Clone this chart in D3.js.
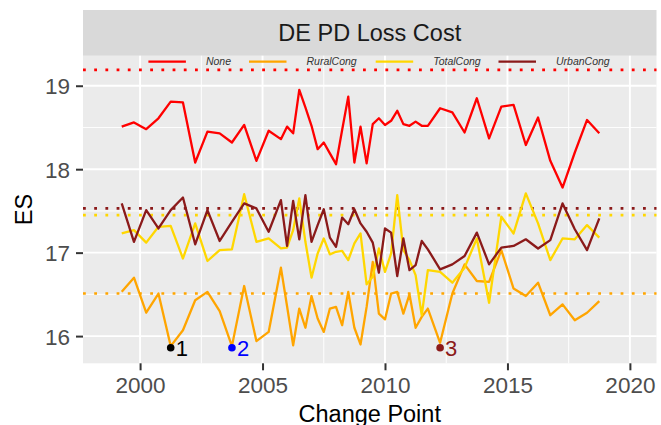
<!DOCTYPE html>
<html>
<head>
<meta charset="utf-8">
<script src="https://cdn.jsdelivr.net/npm/d3@7"></script>
<style>
  body { margin: 0; background: #ffffff; font-family: "Liberation Sans", Arial, sans-serif; }
</style>
</head>
<body>
<div id="chart-container"></div>
<script>
// data
const years = [1999.25, 1999.75, 2000.25, 2000.75, 2001.25, 2001.75, 2002.25, 2002.75, 2003.25, 2003.75,
  2004.25, 2004.75, 2005.25, 2005.75, 2006, 2006.25, 2006.5, 2006.75, 2007, 2007.25, 2007.5, 2007.75,
  2008, 2008.25, 2008.5, 2008.75, 2009, 2009.25, 2009.5, 2009.75, 2010, 2010.25, 2010.5, 2010.75,
  2011, 2011.25, 2011.5, 2011.75, 2012.25, 2012.75, 2013.25, 2013.75, 2014.25, 2014.75, 2015.25,
  2015.75, 2016.25, 2016.75, 2017.25, 2017.75, 2018.25, 2018.75];

const none = [18.51, 18.56, 18.48, 18.61, 18.81, 18.80, 18.08, 18.45, 18.43, 18.32, 18.53, 18.10, 18.46, 18.36,
  18.51, 18.43, 18.95, 18.74, 18.52, 18.24, 18.32, 18.19, 18.06, 18.47, 18.87, 18.08, 18.51, 18.07,
  18.54, 18.61, 18.53, 18.58, 18.70, 18.54, 18.52, 18.57, 18.52, 18.52,
  18.73, 18.68, 18.44, 18.85, 18.37, 18.75, 18.77, 18.29, 18.62, 18.10, 17.78, 18.20, 18.59, 18.43];

const ruralCong = [16.53, 16.70, 16.28, 16.51, 15.88, 16.07, 16.43, 16.53, 16.30, 15.88, 16.60, 15.94, 16.05, 16.82,
  16.36, 15.89, 16.33, 16.10, 16.48, 16.21, 16.05, 16.33, 16.35, 16.13, 16.53, 16.10, 15.90, 16.35,
  16.89, 16.27, 16.20, 16.51, 16.53, 16.27, 16.50, 16.10, 16.23, 16.33,
  15.92, 16.51, 16.86, 16.66, 16.65, 17.03, 16.57, 16.48, 16.64, 16.25, 16.38, 16.19, 16.28, 16.42];

const totalCong = [17.23, 17.27, 17.12, 17.31, 17.32, 16.93, 17.35, 16.90, 17.03, 17.04, 17.70, 17.13, 17.17, 17.05,
  17.06, 17.27, 17.65, 17.13, 16.70, 16.99, 17.17, 16.98, 17.01, 17.02, 16.91, 17.11, 17.23, 16.62,
  16.71, 17.05, 16.77, 16.99, 17.69, 17.03, 16.91, 16.73, 16.25, 16.79,
  16.77, 16.64, 16.82, 17.17, 16.40, 17.43, 17.23, 17.71, 17.35, 16.91, 17.17, 17.16, 17.33, 17.18];

const urbanCong = [17.59, 17.13, 17.51, 17.29, 17.51, 17.66, 17.10, 17.51, 17.14, 17.37, 17.59, 17.53, 17.25, 17.63,
  17.08, 17.62, 17.16, 17.69, 17.13, 17.33, 17.52, 17.18, 17.07, 17.42, 17.34, 17.52, 17.35, 17.25,
  17.12, 16.76, 17.29, 17.24, 16.72, 17.17, 16.79, 16.85, 17.14, 17.04,
  16.80, 16.86, 16.96, 17.24, 16.86, 17.06, 17.08, 17.16, 17.05, 17.15, 17.59, 17.28, 17.03, 17.41];

const seriesNames = ["None", "RuralCong", "TotalCong", "UrbanCong"];
const seriesColors = ["#ff0000", "#ffa500", "#ffd700", "#8b1a1a"];
const meanLevels = [19.19, 16.51, 17.45, 17.53];

const changeYears = [2001.25, 2003.75, 2012.25];
const changeValue = 15.86;
const changeLabels = ["1", "2", "3"];
const changeColors = ["#000000", "#0000ff", "#8b1a1a"];

const xTicks = [2000, 2005, 2010, 2015, 2020];
const yTicks = [16, 17, 18, 19];

const allSeries = [none, ruralCong, totalCong, urbanCong];

// layout
let margin = { top: 55.7, right: 4.5, bottom: 61.7, left: 83 };
let width = 661 - margin.left - margin.right;
let height = 425 - margin.top - margin.bottom;

var svg = d3
  .select("#chart-container")
  .append("svg")
  .attr("width", 661)
  .attr("height", 425)
  .append("g")
  .attr("transform", "translate(" + margin.left + "," + margin.top + ")");

let xScale = d3.scaleLinear().domain([1997.669, 2021.086]).range([0, width]);
let yScale = d3.scaleLinear().domain([15.674, 19.36]).range([height, 0]);

// panel + strip
svg.append("rect").attr("width", width).attr("height", height).style("fill", "#ebebeb");
svg.append("rect").attr("y", 10 - margin.top).attr("width", width).attr("height", margin.top - 10)
  .style("fill", "#d9d9d9");
svg.append("text")
  .attr("x", width / 2).attr("y", 40.7 - margin.top)
  .style("text-anchor", "middle").style("font-size", "23.5px").style("fill", "#1a1a1a")
  .text("DE PD Loss Cost");

// grid
let grid = svg.append("g");
[16.5, 17.5, 18.5].forEach((v) => {
  grid.append("line").attr("x1", 0).attr("x2", width).attr("y1", yScale(v)).attr("y2", yScale(v))
    .style("stroke", "#fff").style("stroke-width", 0.95);
});
[1997.5, 2002.5, 2007.5, 2012.5, 2017.5].forEach((v) => {
  grid.append("line").attr("y1", 0).attr("y2", height).attr("x1", xScale(v)).attr("x2", xScale(v))
    .style("stroke", "#fff").style("stroke-width", 0.95);
});
yTicks.forEach((v) => {
  grid.append("line").attr("x1", 0).attr("x2", width).attr("y1", yScale(v)).attr("y2", yScale(v))
    .style("stroke", "#fff").style("stroke-width", 1.9);
});
xTicks.forEach((v) => {
  grid.append("line").attr("y1", 0).attr("y2", height).attr("x1", xScale(v)).attr("x2", xScale(v))
    .style("stroke", "#fff").style("stroke-width", 1.9);
});

// axes
let xAxis = svg.append("g")
  .attr("transform", "translate(0," + height + ")")
  .call(d3.axisBottom(xScale).tickValues(xTicks).tickSize(7).tickPadding(6).tickFormat((d) => d));
let yAxis = svg.append("g")
  .call(d3.axisLeft(yScale).tickValues(yTicks).tickSize(7).tickPadding(6).tickFormat(d3.format("d")));
[xAxis, yAxis].forEach((ax) => {
  ax.select(".domain").remove();
  ax.selectAll(".tick line").style("stroke", "#333333").style("stroke-width", 2);
  ax.selectAll(".tick text").style("fill", "#4d4d4d").style("font-size", "22.5px")
    .style("font-family", "Liberation Sans, Arial, sans-serif");
});
xAxis.selectAll(".tick text").attr("dy", null).attr("y", 30);
yAxis.selectAll(".tick text").attr("dy", "0.36em");

svg.append("text")
  .attr("x", width / 2).attr("y", 422 - margin.top)
  .style("text-anchor", "middle").style("font-size", "23.5px")
  .text("Change Point");
svg.append("text")
  .attr("transform", "rotate(-90)")
  .attr("x", -height / 2).attr("y", 31.5 - margin.left)
  .style("text-anchor", "middle").style("font-size", "23.5px")
  .text("ES");

// mean levels (dotted)
svg.append("g").selectAll("line").data(meanLevels).enter().append("line")
  .attr("x1", 0).attr("x2", width)
  .attr("y1", (d) => yScale(d)).attr("y2", (d) => yScale(d))
  .style("stroke", (d, i) => seriesColors[i])
  .style("stroke-width", 2.6)
  .style("stroke-dasharray", "2.8 8.4");

// series lines
let line = d3.line().x((d, i) => xScale(years[i])).y((d) => yScale(d));
svg.append("g").selectAll("path").data(allSeries).enter().append("path")
  .attr("d", line)
  .style("fill", "none")
  .style("stroke", (d, i) => seriesColors[i])
  .style("stroke-width", 2.3)
  .style("stroke-linejoin", "round");

// change points
let cp = svg.append("g").selectAll("g").data(changeYears).enter().append("g");
cp.append("circle")
  .attr("cx", (d) => xScale(d)).attr("cy", yScale(changeValue)).attr("r", 3.8)
  .style("fill", (d, i) => changeColors[i]);
cp.append("text")
  .attr("x", (d) => xScale(d) + 5).attr("y", yScale(changeValue)).attr("dy", "0.36em")
  .style("font-size", "22px")
  .style("fill", (d, i) => changeColors[i])
  .text((d, i) => changeLabels[i]);

// legend
let legendKeys = [148.4, 249, 375.7, 498.5];
let legend = svg.append("g").selectAll("g").data(seriesNames).enter().append("g")
  .attr("transform", (d, i) => "translate(" + (legendKeys[i] - margin.left) + "," + (61.7 - margin.top) + ")");
legend.append("line").attr("x1", 0).attr("x2", 37.5)
  .style("stroke", (d, i) => seriesColors[i]).style("stroke-width", 2.3);
legend.append("text").attr("x", 57.5).attr("dy", "0.36em")
  .style("font-size", "10.5px").style("font-style", "italic").style("fill", "#333")
  .text((d) => d);
</script>
</body>
</html>
